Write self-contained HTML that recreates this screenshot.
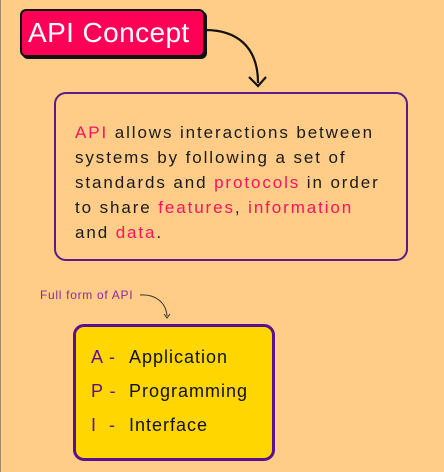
<!DOCTYPE html>
<html><head><style>
body{margin:0;width:444px;height:472px;background:#ffcd88;position:relative;overflow:hidden;font-family:"Liberation Sans",sans-serif}
.edge{position:absolute;left:0;top:0;width:1px;height:472px;background:#9a8a70}
.title{position:absolute;left:20px;top:9px;width:181px;height:44px;background:#ff0057;border:2px solid #111;border-radius:6px;box-shadow:2px 2px 0 #111;color:#fff;font-size:28px;line-height:44px;text-indent:6px;letter-spacing:0.4px}
.desc{position:absolute;left:54px;top:92px;width:350px;height:165px;border:2px solid #5a1a8a;border-radius:12px}
.desc p{margin:0;position:absolute;left:19px;top:26px;font-size:17px;line-height:25px;color:#1a1a1a;letter-spacing:1.9px;white-space:nowrap}
.r{color:#ff1060}
.lbl{position:absolute;left:40px;top:288px;font-size:12px;color:#8a2aa0;letter-spacing:0.7px}
.yel{position:absolute;left:73px;top:324px;width:196px;height:131px;background:#ffd600;border:3px solid #5a1090;border-radius:11px}
.row{position:absolute;left:15px;font-size:18px;color:#111;white-space:nowrap;letter-spacing:1px}
.row b{font-weight:normal;color:#5a1090;display:inline-block;width:38px}
</style></head><body>
<div class="edge"></div>
<div class="title">API Concept</div>
<svg width="444" height="472" style="position:absolute;left:0;top:0">
<path d="M205 30 C235 30 258 45 258 83" fill="none" stroke="#111" stroke-width="2.2"/>
<path d="M249 77 L258 86 L266 77" fill="none" stroke="#111" stroke-width="2.2"/>
<path d="M140 295 C155 294 166 302 167 316" fill="none" stroke="#333" stroke-width="1"/>
<path d="M164 314 L167 318 L170 314" fill="none" stroke="#333" stroke-width="1"/>
</svg>
<div class="desc"><p><span class="r">API</span> allows interactions between<br>systems by following a set of<br>standards and <span class="r">protocols</span> in order<br>to share <span class="r">features</span>, <span class="r">information</span><br>and <span class="r">data</span>.</p></div>
<div class="lbl">Full form of API</div>
<div class="yel">
<div class="row" style="top:20px"><b>A -</b>Application</div>
<div class="row" style="top:54px"><b>P -</b>Programming</div>
<div class="row" style="top:88px"><b>I &nbsp;-</b>Interface</div>
</div>
</body></html>
